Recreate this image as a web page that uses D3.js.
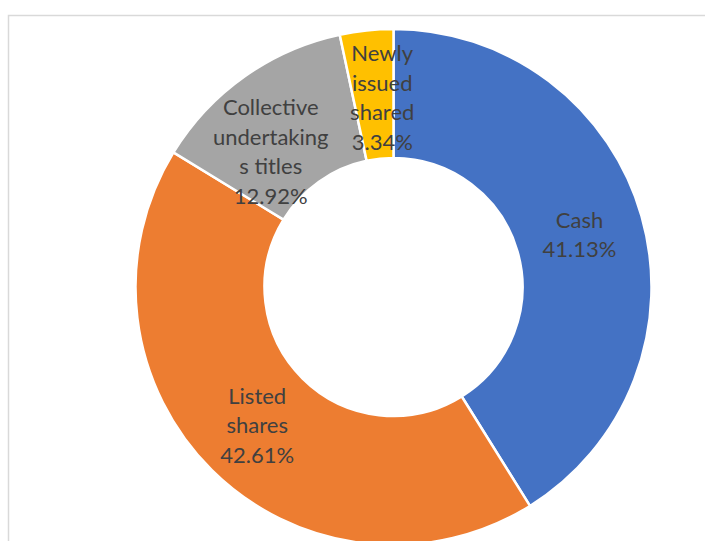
<!DOCTYPE html>
<html>
<head>
<meta charset="utf-8">
<script src="https://d3js.org/d3.v7.min.js"></script>
<style>
    html, body {
        margin: 0;
        padding: 0;
        background: #fff;
    }
    .label {
        font-family: Lato, "Liberation Sans", sans-serif;
        font-size: 22px;
        fill: #404040;
    }
</style>
</head>
<body>
<svg width="705" height="541" class="donut"></svg>
<script>
    // data
    const categories = ['Cash', 'Listed shares', 'Collective undertakings titles', 'Newly issued shared'];
    const values = [41.13, 42.61, 12.92, 3.34];
    const labelLines = [
        ['Cash'],
        ['Listed', 'shares'],
        ['Collective', 'undertaking', 's titles'],
        ['Newly', 'issued', 'shared']
    ];
    const colors = ['#4472C4', '#ED7D31', '#A5A5A5', '#FFC000'];

    const data = categories.map((c, i) => ({
        name: c,
        value: values[i],
        lines: labelLines[i].concat([values[i].toFixed(2) + '%']),
        color: colors[i]
    }));

    const svg = d3.select('.donut');

    // chart area frame (runs off the right and bottom edge)
    svg.append('rect')
        .attr('x', 8.5)
        .attr('y', 15.5)
        .attr('width', 760)
        .attr('height', 600)
        .attr('fill', '#fff')
        .attr('stroke', '#d9d9d9')
        .attr('stroke-width', 1.5);

    const cx = 393.5, cy = 287;
    const outer = 258, inner = 129;

    const pie = d3.pie()
        .sort(null)
        .value(d => d.value);

    const arc = d3.arc()
        .innerRadius(inner)
        .outerRadius(outer);

    const g = svg.append('g')
        .attr('transform', 'translate(' + cx + ',' + cy + ')');

    const arcs = pie(data);

    g.selectAll('path')
        .data(arcs)
        .enter()
        .append('path')
        .attr('d', arc)
        .attr('fill', d => d.data.color)
        .attr('stroke', '#fff')
        .attr('stroke-width', 2.5)
        .attr('stroke-linejoin', 'round');

    // small nudges where the label is pushed off the centroid
    const nudge = {
        'Collective undertakings titles': [-11, 22],
        'Newly issued shared': [9, 2]
    };
    const lineH = 29.5;

    const labels = g.selectAll('.label')
        .data(arcs)
        .enter()
        .append('text')
        .attr('class', 'label')
        .attr('text-anchor', 'middle')
        .attr('transform', d => {
            const c = arc.centroid(d);
            const n = nudge[d.data.name] || [0, 0];
            return 'translate(' + (c[0] + n[0]) + ',' + (c[1] + n[1] + 1) + ')';
        });

    labels.each(function (d) {
        const n = d.data.lines.length;
        d3.select(this)
            .selectAll('tspan')
            .data(d.data.lines)
            .enter()
            .append('tspan')
            .attr('x', 0)
            .attr('y', (t, i) => (i - (n - 1) / 2) * lineH)
            .attr('dy', '0.35em')
            .text(t => t);
    });
</script>
</body>
</html>
